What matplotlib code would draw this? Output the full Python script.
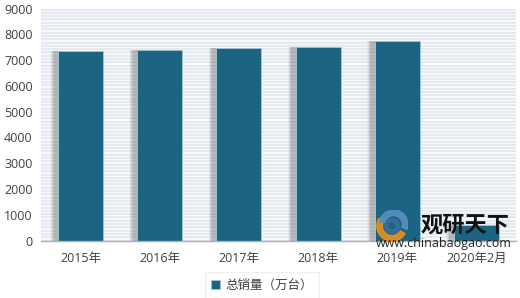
import matplotlib
matplotlib.use("Agg")
import matplotlib.pyplot as plt
from matplotlib.patches import Wedge
import numpy as np

categories = ["2015年", "2016年", "2017年", "2018年", "2019年", "2020年2月"]
values = [7360, 7390, 7480, 7495, 7725, 585]
yticks = [0, 1000, 2000, 3000, 4000, 5000, 6000, 7000, 8000, 9000]
series_name = "总销量（万台）"

FAM = ["Open Sans", "Noto Sans CJK SC", "DejaVu Sans"]
plt.rcParams["font.family"] = FAM

bar_color = "#1b6482"
fig = plt.figure(figsize=(5.20, 2.98), dpi=100)
ax = fig.add_axes([41/520, 1-240.5/298, 475/520, 232/298])

x = np.arange(len(categories))
ax.set_xlim(-0.5, len(categories) - 0.5)
ax.set_ylim(0, 9000)

# striped background
ax.set_facecolor("#f6f8fb")
for yy in np.arange(0, 9000, 128):
    ax.axhline(yy, color="#e0e7ef", lw=1.1, zorder=0)

w = 0.57
# soft shadow
for dx, dy, a in [(0.095, 160, 0.05), (0.085, 140, 0.06), (0.075, 120, 0.07),
                  (0.065, 100, 0.08), (0.055, 80, 0.08)]:
    ax.bar(x - dx, np.array(values) + dy, width=w, bottom=-dy,
           color="#303030", alpha=a, lw=0, zorder=1)
ax.bar(x, values, width=w, color=bar_color, edgecolor="#a4c0cf",
       linewidth=0.7, zorder=2, label=series_name)

ax.set_xticks(x)
ax.set_xticklabels(categories)
ax.set_yticks(yticks)
ax.tick_params(axis="both", length=0, labelsize=9, colors="#404040")
ax.tick_params(axis="x", pad=8)
ax.tick_params(axis="y", pad=6)
for s in ["top", "right", "left"]:
    ax.spines[s].set_visible(False)
ax.spines["bottom"].set_color("#b0b0b0")
ax.spines["bottom"].set_linewidth(1.0)

leg = fig.legend(loc="center", bbox_to_anchor=(262/520, 1-285/298),
                 frameon=True, fontsize=9, handlelength=0.7, handleheight=0.7,
                 handletextpad=0.4, borderpad=0.5, fancybox=False)
leg.get_frame().set_edgecolor("#ececec")
leg.get_frame().set_linewidth(1.0)
for t in leg.get_texts():
    t.set_color("#404040")

# watermark logo (approximate swirl)
lax = fig.add_axes([372/520, 1-242/298, 40/520, 32/298])
lax.set_xlim(-1, 1); lax.set_ylim(-1, 1); lax.axis("off")
lax.set_aspect("equal")
lax.add_patch(Wedge((0, 0), 0.95, 150, 330, width=0.35, color="#e8901e", alpha=0.9))
lax.add_patch(Wedge((0.1, 0.1), 0.9, -20, 170, width=0.35, color="#5a8fc0", alpha=0.9))
lax.add_patch(Wedge((0, 0), 0.45, 0, 360, width=0.2, color="#3b6f9c", alpha=0.8))

fig.text(465/520, 1-225/298, "观研天下", fontsize=16, fontweight="bold",
         color="#111111", ha="center", va="center",
         family=["Noto Sans CJK SC"], zorder=10)
fig.text(444/520, 1-244/298, "www.chinabaogao.com", fontsize=9,
         color="#222222", ha="center", va="center", zorder=10)

fig.savefig("out.png", dpi=100)
